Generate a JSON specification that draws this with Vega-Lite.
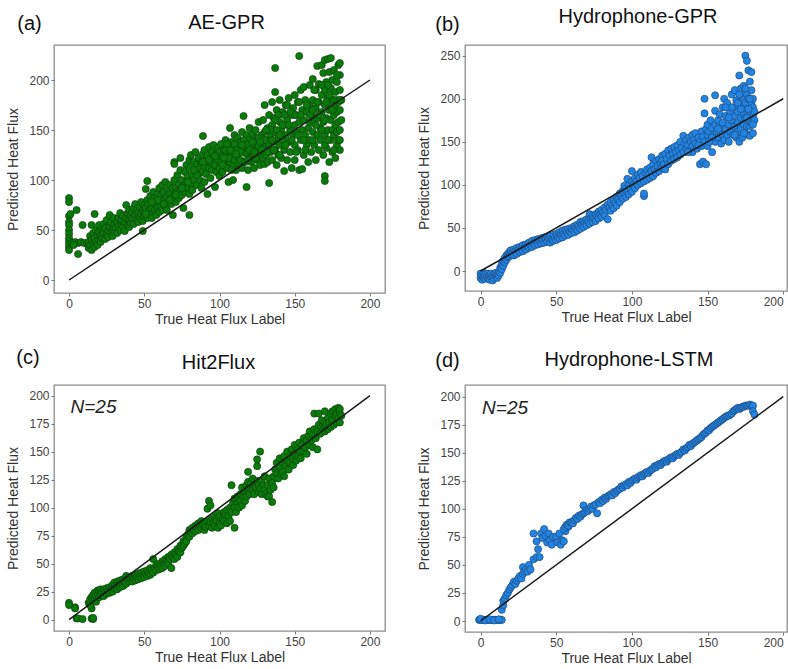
{
"$schema": "https://vega.github.io/schema/vega-lite/v6.json",
"padding": {"left": 6, "right": 0, "top": 6, "bottom": 0},
"background": "white",
"config": {
 "font": "Liberation Sans",
 "view": {"stroke": "#8c8c8c", "strokeWidth": 1.3},
 "axis": {"grid": false, "domain": false, "tickSize": 3, "tickColor": "#777", "labelFontSize": 12, "labelColor": "#444", "labelPadding": 2, "labelOverlap": false, "titleFontSize": 14, "titleFontWeight": "normal", "titleColor": "#333", "labelFont": "Liberation Sans", "titleFont": "Liberation Sans"},
 "axisY": {"titlePadding": 8},
 "axisX": {"titlePadding": 3},
 "title": {"fontSize": 20, "fontWeight": "normal", "color": "#111", "font": "Liberation Sans"}
},
"datasets": {
 "diag": [{"x":0,"y":0},{"x":200,"y":200}],
 "ann": [{"x":1,"y":190,"t":"N=25"}],
 "a": [
{"x":0,"y":82},{"x":0,"y":78},{"x":0,"y":64},{"x":0,"y":58},{"x":0,"y":55},{"x":0,"y":50},{"x":0,"y":46},{"x":0,"y":42},{"x":0,"y":39},{"x":0,"y":36},{"x":0,"y":33},{"x":0,"y":30},
{"x":2,"y":37},{"x":4,"y":38},{"x":6,"y":37},{"x":8,"y":38},{"x":10,"y":37},{"x":12,"y":37},{"x":3,"y":35},{"x":5,"y":70},{"x":6,"y":26},{"x":9,"y":55},{"x":1,"y":66},
{"x":13,"y":32},{"x":13,"y":38},{"x":14,"y":35},{"x":14,"y":44},{"x":15,"y":30},{"x":15,"y":40},{"x":15,"y":55},{"x":16,"y":36},{"x":16,"y":47},{"x":17,"y":66},{"x":17,"y":33},{"x":17,"y":42},{"x":18,"y":38},{"x":18,"y":50},{"x":19,"y":45},{"x":19,"y":35},{"x":20,"y":40},{"x":20,"y":55},{"x":20,"y":48},
{"x":21,"y":38},{"x":21,"y":44},{"x":22,"y":50},{"x":22,"y":42},{"x":23,"y":47},{"x":23,"y":56},{"x":24,"y":41},{"x":24,"y":52},{"x":25,"y":45},{"x":25,"y":60},{"x":26,"y":49},{"x":26,"y":43},{"x":27,"y":53},{"x":27,"y":65},{"x":28,"y":47},{"x":28,"y":58},{"x":29,"y":51},{"x":29,"y":44},{"x":30,"y":55},{"x":30,"y":62},{"x":30,"y":48},
{"x":31,"y":52},{"x":32,"y":58},{"x":32,"y":47},{"x":33,"y":62},{"x":33,"y":54},{"x":34,"y":50},{"x":34,"y":67},{"x":35,"y":56},{"x":35,"y":60},{"x":36,"y":53},{"x":36,"y":64},{"x":37,"y":58},{"x":37,"y":49},{"x":38,"y":62},{"x":38,"y":75},{"x":39,"y":55},{"x":39,"y":67},{"x":40,"y":60},{"x":40,"y":70},{"x":40,"y":53},
{"x":41,"y":57},{"x":41,"y":64},{"x":42,"y":68},{"x":42,"y":61},{"x":43,"y":72},{"x":43,"y":56},{"x":44,"y":65},{"x":44,"y":76},{"x":45,"y":60},{"x":45,"y":70},{"x":46,"y":67},{"x":46,"y":58},{"x":47,"y":73},{"x":47,"y":63},{"x":48,"y":78},{"x":48,"y":66},{"x":49,"y":59},{"x":49,"y":70},{"x":49,"y":49},{"x":50,"y":64},{"x":50,"y":75},{"x":50,"y":68},
{"x":51,"y":91},{"x":52,"y":99},{"x":51,"y":72},{"x":52,"y":62},{"x":52,"y":80},{"x":53,"y":69},{"x":53,"y":76},{"x":54,"y":66},{"x":54,"y":84},{"x":55,"y":72},{"x":55,"y":62},{"x":56,"y":78},{"x":56,"y":88},{"x":57,"y":70},{"x":57,"y":82},{"x":58,"y":75},{"x":58,"y":65},{"x":59,"y":86},{"x":59,"y":72},{"x":60,"y":79},{"x":60,"y":68},{"x":60,"y":92},
{"x":61,"y":74},{"x":61,"y":84},{"x":62,"y":95},{"x":62,"y":70},{"x":63,"y":80},{"x":63,"y":88},{"x":64,"y":74},{"x":64,"y":98},{"x":65,"y":83},{"x":65,"y":70},{"x":66,"y":90},{"x":66,"y":78},{"x":67,"y":86},{"x":67,"y":95},{"x":68,"y":76},{"x":68,"y":82},{"x":69,"y":92},{"x":69,"y":65},{"x":70,"y":85},{"x":70,"y":100},{"x":70,"y":118},{"x":70,"y":116},
{"x":71,"y":78},{"x":71,"y":93},{"x":72,"y":88},{"x":72,"y":105},{"x":73,"y":82},{"x":73,"y":96},{"x":74,"y":122},{"x":74,"y":90},{"x":74,"y":110},{"x":75,"y":85},{"x":75,"y":100},{"x":76,"y":72},{"x":76,"y":94},{"x":77,"y":108},{"x":77,"y":88},{"x":78,"y":98},{"x":78,"y":115},{"x":79,"y":92},{"x":79,"y":104},{"x":80,"y":65},{"x":80,"y":86},{"x":80,"y":112},{"x":80,"y":120},
{"x":81,"y":96},{"x":81,"y":125},{"x":82,"y":105},{"x":82,"y":90},{"x":83,"y":118},{"x":83,"y":100},{"x":84,"y":110},{"x":84,"y":128},{"x":85,"y":95},{"x":85,"y":115},{"x":86,"y":106},{"x":86,"y":122},{"x":87,"y":100},{"x":87,"y":112},{"x":88,"y":118},{"x":88,"y":92},{"x":89,"y":144},{"x":89,"y":108},{"x":89,"y":126},{"x":90,"y":114},{"x":90,"y":98},{"x":90,"y":130},
{"x":91,"y":120},{"x":91,"y":106},{"x":92,"y":86},{"x":92,"y":125},{"x":93,"y":112},{"x":93,"y":133},{"x":94,"y":118},{"x":94,"y":102},{"x":95,"y":128},{"x":95,"y":110},{"x":96,"y":122},{"x":96,"y":135},{"x":97,"y":93},{"x":97,"y":115},{"x":98,"y":126},{"x":98,"y":108},{"x":99,"y":120},{"x":99,"y":132},{"x":100,"y":112},{"x":100,"y":128},{"x":100,"y":104},
{"x":101,"y":118},{"x":101,"y":136},{"x":102,"y":124},{"x":102,"y":108},{"x":103,"y":130},{"x":103,"y":115},{"x":104,"y":120},{"x":104,"y":140},{"x":105,"y":112},{"x":105,"y":126},{"x":106,"y":98},{"x":106,"y":132},{"x":107,"y":152},{"x":107,"y":118},{"x":108,"y":124},{"x":108,"y":138},{"x":109,"y":100},{"x":109,"y":114},{"x":110,"y":128},{"x":110,"y":145},{"x":110,"y":120},
{"x":111,"y":110},{"x":111,"y":134},{"x":112,"y":124},{"x":112,"y":142},{"x":113,"y":116},{"x":113,"y":130},{"x":114,"y":138},{"x":114,"y":120},{"x":115,"y":148},{"x":115,"y":112},{"x":116,"y":164},{"x":116,"y":128},{"x":117,"y":136},{"x":117,"y":118},{"x":118,"y":93},{"x":118,"y":126},{"x":118,"y":145},{"x":119,"y":110},{"x":119,"y":132},{"x":120,"y":140},{"x":120,"y":152},{"x":120,"y":122},
{"x":121,"y":118},{"x":121,"y":134},{"x":122,"y":146},{"x":122,"y":126},{"x":123,"y":112},{"x":123,"y":138},{"x":124,"y":150},{"x":124,"y":130},{"x":125,"y":120},{"x":125,"y":142},{"x":126,"y":158},{"x":126,"y":134},{"x":127,"y":115},{"x":127,"y":126},{"x":128,"y":145},{"x":128,"y":138},{"x":129,"y":122},{"x":129,"y":160},{"x":130,"y":175},{"x":130,"y":132},{"x":130,"y":148},{"x":130,"y":116},
{"x":131,"y":140},{"x":131,"y":125},{"x":132,"y":152},{"x":132,"y":118},{"x":133,"y":97},{"x":133,"y":135},{"x":133,"y":165},{"x":134,"y":128},{"x":134,"y":145},{"x":135,"y":178},{"x":135,"y":155},{"x":135,"y":120},{"x":136,"y":138},{"x":136,"y":162},{"x":137,"y":212},{"x":137,"y":188},{"x":137,"y":130},{"x":137,"y":148},{"x":138,"y":115},{"x":138,"y":170},{"x":139,"y":142},{"x":139,"y":125},{"x":140,"y":158},{"x":140,"y":135},{"x":140,"y":180},
{"x":141,"y":122},{"x":141,"y":150},{"x":142,"y":168},{"x":142,"y":140},{"x":143,"y":109},{"x":143,"y":130},{"x":143,"y":155},{"x":144,"y":175},{"x":144,"y":145},{"x":145,"y":120},{"x":145,"y":160},{"x":146,"y":138},{"x":146,"y":182},{"x":147,"y":150},{"x":147,"y":128},{"x":148,"y":165},{"x":148,"y":112},{"x":149,"y":145},{"x":149,"y":172},{"x":150,"y":135},{"x":150,"y":155},{"x":150,"y":185},{"x":150,"y":120},
{"x":151,"y":148},{"x":151,"y":165},{"x":152,"y":130},{"x":152,"y":178},{"x":153,"y":224},{"x":153,"y":110},{"x":153,"y":158},{"x":154,"y":140},{"x":154,"y":190},{"x":155,"y":111},{"x":155,"y":170},{"x":155,"y":150},{"x":156,"y":125},{"x":156,"y":193},{"x":156,"y":160},{"x":157,"y":145},{"x":157,"y":180},{"x":158,"y":135},{"x":158,"y":168},{"x":159,"y":118},{"x":159,"y":152},{"x":160,"y":175},{"x":160,"y":140},{"x":160,"y":195},{"x":160,"y":158},
{"x":161,"y":128},{"x":161,"y":165},{"x":162,"y":201},{"x":162,"y":148},{"x":162,"y":180},{"x":163,"y":135},{"x":163,"y":158},{"x":164,"y":172},{"x":164,"y":120},{"x":164,"y":190},{"x":165,"y":214},{"x":165,"y":145},{"x":165,"y":162},{"x":166,"y":130},{"x":166,"y":178},{"x":166,"y":196},{"x":167,"y":152},{"x":167,"y":140},{"x":168,"y":215},{"x":168,"y":168},{"x":168,"y":185},{"x":169,"y":125},{"x":169,"y":207},{"x":169,"y":158},{"x":170,"y":104},{"x":170,"y":99},{"x":170,"y":145},{"x":170,"y":175},{"x":170,"y":220},{"x":170,"y":190},
{"x":171,"y":132},{"x":171,"y":162},{"x":171,"y":198},{"x":172,"y":221},{"x":172,"y":150},{"x":172,"y":182},{"x":173,"y":118},{"x":173,"y":170},{"x":173,"y":208},{"x":174,"y":222},{"x":174,"y":140},{"x":174,"y":160},{"x":174,"y":192},{"x":175,"y":128},{"x":175,"y":180},{"x":175,"y":200},{"x":175,"y":150},{"x":176,"y":165},{"x":176,"y":145},{"x":176,"y":210},{"x":177,"y":122},{"x":177,"y":188},{"x":177,"y":172},{"x":177,"y":155},{"x":178,"y":135},{"x":178,"y":198},{"x":178,"y":168},{"x":178,"y":148},{"x":179,"y":215},{"x":179,"y":178},{"x":179,"y":158},{"x":179,"y":140},{"x":180,"y":217},{"x":180,"y":190},{"x":180,"y":170},{"x":180,"y":150},{"x":180,"y":130},{"x":180,"y":205},{"x":181,"y":160},{"x":181,"y":180},
{"x":102,"y":115},{"x":104,"y":130},{"x":106,"y":122},{"x":108,"y":110},{"x":110,"y":136},{"x":112,"y":130},{"x":114,"y":128},{"x":116,"y":140},{"x":118,"y":135},{"x":120,"y":130},{"x":122,"y":138},{"x":124,"y":122},{"x":126,"y":142},{"x":128,"y":130},{"x":130,"y":140},{"x":132,"y":128},{"x":134,"y":150},{"x":136,"y":130},{"x":138,"y":150},{"x":140,"y":125},{"x":140,"y":145},{"x":142,"y":155},{"x":144,"y":135},{"x":146,"y":155},{"x":148,"y":140},{"x":150,"y":165},{"x":152,"y":145},{"x":154,"y":165},{"x":156,"y":140},{"x":158,"y":175},{"x":160,"y":165},{"x":162,"y":140},{"x":162,"y":170},{"x":164,"y":155},{"x":166,"y":165},{"x":168,"y":150},{"x":168,"y":195},{"x":170,"y":160},{"x":170,"y":135},{"x":172,"y":140},{"x":172,"y":195},{"x":174,"y":175},{"x":176,"y":180},{"x":176,"y":130},{"x":178,"y":180},{"x":178,"y":205},{"x":180,"y":140},{"x":180,"y":180},{"x":175,"y":170},{"x":173,"y":185},{"x":171,"y":178},{"x":165,"y":178},{"x":163,"y":190},{"x":157,"y":130},{"x":153,"y":178},{"x":151,"y":128},{"x":147,"y":168},{"x":145,"y":175},{"x":143,"y":165},{"x":139,"y":165},{"x":137,"y":160},{"x":135,"y":140},{"x":131,"y":150},{"x":127,"y":138},{"x":123,"y":128},{"x":119,"y":120},{"x":115,"y":135},{"x":111,"y":126},{"x":107,"y":130},{"x":105,"y":136},{"x":103,"y":122},{"x":97,"y":124},{"x":93,"y":120},{"x":89,"y":118},{"x":85,"y":105},{"x":83,"y":110},{"x":79,"y":98},{"x":75,"y":92},{"x":71,"y":85},{"x":67,"y":80},{"x":63,"y":76},{"x":59,"y":80},{"x":55,"y":78},{"x":51,"y":66}
 ],
 "b": [
{"x":0,"y":-3},{"x":0,"y":-8},{"x":1,"y":-10},{"x":1,"y":-5},{"x":2,"y":-2},{"x":2,"y":-7},{"x":3,"y":-9},{"x":3,"y":-4},{"x":4,"y":-6},{"x":5,"y":-3},{"x":5,"y":-8},{"x":6,"y":-5},{"x":6,"y":-10},{"x":7,"y":-7},{"x":7,"y":-3},{"x":8,"y":-11},{"x":8,"y":-6},{"x":9,"y":-4},{"x":9,"y":-8},{"x":10,"y":-6},{"x":10,"y":-2},{"x":11,"y":-8},{"x":11,"y":-4},{"x":12,"y":-5},{"x":12,"y":-1},
{"x":13,"y":-2},{"x":13,"y":4},{"x":14,"y":8},{"x":14,"y":2},{"x":15,"y":12},{"x":15,"y":6},{"x":16,"y":15},{"x":16,"y":10},{"x":17,"y":18},{"x":17,"y":13},{"x":18,"y":20},{"x":18,"y":16},{"x":19,"y":22},{"x":19,"y":17},{"x":20,"y":24},{"x":20,"y":19},
{"x":21,"y":21},{"x":22,"y":25},{"x":22,"y":18},{"x":23,"y":23},{"x":24,"y":27},{"x":24,"y":20},{"x":25,"y":24},{"x":26,"y":28},{"x":26,"y":22},{"x":27,"y":26},{"x":28,"y":30},{"x":28,"y":23},{"x":29,"y":27},{"x":30,"y":31},{"x":30,"y":25},{"x":31,"y":29},{"x":32,"y":33},{"x":32,"y":27},{"x":33,"y":30},{"x":34,"y":35},{"x":34,"y":28},{"x":35,"y":32},{"x":36,"y":36},{"x":36,"y":30},{"x":37,"y":34},{"x":38,"y":37},{"x":38,"y":31},{"x":39,"y":35},{"x":40,"y":38},{"x":40,"y":32},
{"x":41,"y":36},{"x":42,"y":39},{"x":42,"y":33},{"x":43,"y":37},{"x":44,"y":40},{"x":44,"y":34},{"x":45,"y":38},{"x":46,"y":33},{"x":46,"y":41},{"x":47,"y":37},{"x":48,"y":42},{"x":48,"y":35},{"x":49,"y":39},{"x":50,"y":43},{"x":50,"y":36},{"x":51,"y":40},{"x":52,"y":45},{"x":52,"y":38},{"x":53,"y":42},{"x":54,"y":47},{"x":54,"y":39},{"x":55,"y":43},{"x":56,"y":48},{"x":56,"y":41},{"x":57,"y":45},{"x":58,"y":49},{"x":58,"y":42},{"x":59,"y":46},{"x":60,"y":50},{"x":60,"y":44},
{"x":61,"y":48},{"x":62,"y":52},{"x":62,"y":45},{"x":63,"y":50},{"x":64,"y":54},{"x":64,"y":47},{"x":65,"y":52},{"x":66,"y":57},{"x":66,"y":49},{"x":67,"y":54},{"x":68,"y":58},{"x":68,"y":51},{"x":69,"y":56},{"x":70,"y":60},{"x":70,"y":53},{"x":71,"y":58},{"x":72,"y":66},{"x":72,"y":55},{"x":73,"y":61},{"x":74,"y":64},{"x":74,"y":57},{"x":75,"y":62},{"x":76,"y":66},{"x":76,"y":58},{"x":77,"y":64},{"x":78,"y":69},{"x":78,"y":61},{"x":79,"y":66},{"x":80,"y":71},{"x":80,"y":63},
{"x":81,"y":68},{"x":82,"y":74},{"x":82,"y":65},{"x":83,"y":71},{"x":84,"y":77},{"x":84,"y":60},{"x":85,"y":73},{"x":86,"y":80},{"x":86,"y":70},{"x":87,"y":76},{"x":88,"y":83},{"x":88,"y":73},{"x":89,"y":79},{"x":90,"y":86},{"x":90,"y":76},{"x":91,"y":83},{"x":92,"y":90},{"x":92,"y":80},{"x":93,"y":87},{"x":94,"y":93},{"x":94,"y":84},{"x":95,"y":99},{"x":95,"y":90},{"x":96,"y":95},{"x":96,"y":86},{"x":97,"y":107},{"x":97,"y":92},{"x":98,"y":100},{"x":98,"y":89},{"x":99,"y":96},{"x":100,"y":104},{"x":100,"y":92},{"x":100,"y":116},
{"x":101,"y":100},{"x":102,"y":108},{"x":102,"y":96},{"x":103,"y":104},{"x":104,"y":112},{"x":104,"y":100},{"x":105,"y":108},{"x":106,"y":102},{"x":106,"y":115},{"x":107,"y":110},{"x":108,"y":87},{"x":108,"y":90},{"x":108,"y":104},{"x":109,"y":114},{"x":110,"y":118},{"x":110,"y":106},{"x":111,"y":112},{"x":112,"y":120},{"x":112,"y":108},{"x":113,"y":132},{"x":113,"y":116},{"x":114,"y":124},{"x":114,"y":110},{"x":115,"y":118},{"x":116,"y":128},{"x":116,"y":114},{"x":117,"y":122},{"x":118,"y":130},{"x":118,"y":116},{"x":119,"y":125},{"x":120,"y":134},{"x":120,"y":120},{"x":120,"y":128},
{"x":121,"y":124},{"x":122,"y":136},{"x":122,"y":118},{"x":123,"y":130},{"x":124,"y":140},{"x":124,"y":124},{"x":125,"y":134},{"x":126,"y":128},{"x":126,"y":142},{"x":127,"y":136},{"x":128,"y":130},{"x":128,"y":144},{"x":129,"y":138},{"x":130,"y":132},{"x":130,"y":146},{"x":131,"y":140},{"x":132,"y":135},{"x":132,"y":150},{"x":133,"y":143},{"x":134,"y":157},{"x":134,"y":138},{"x":135,"y":148},{"x":136,"y":142},{"x":136,"y":152},{"x":137,"y":146},{"x":138,"y":140},{"x":138,"y":155},{"x":139,"y":150},{"x":140,"y":145},{"x":140,"y":158},{"x":140,"y":138},
{"x":141,"y":152},{"x":142,"y":148},{"x":142,"y":160},{"x":143,"y":142},{"x":144,"y":155},{"x":145,"y":124},{"x":145,"y":150},{"x":146,"y":162},{"x":146,"y":145},{"x":147,"y":127},{"x":147,"y":156},{"x":148,"y":200},{"x":148,"y":183},{"x":148,"y":150},{"x":149,"y":165},{"x":149,"y":124},{"x":150,"y":158},{"x":150,"y":145},{"x":150,"y":170},{"x":151,"y":162},{"x":152,"y":152},{"x":152,"y":175},{"x":153,"y":138},{"x":153,"y":166},{"x":154,"y":158},{"x":155,"y":186},{"x":155,"y":204},{"x":155,"y":170},{"x":155,"y":150},{"x":156,"y":162},{"x":157,"y":175},{"x":157,"y":155},{"x":158,"y":168},{"x":158,"y":182},{"x":159,"y":160},{"x":159,"y":148},{"x":160,"y":172},{"x":160,"y":158},{"x":160,"y":190},
{"x":161,"y":152},{"x":161,"y":200},{"x":162,"y":165},{"x":162,"y":180},{"x":163,"y":158},{"x":163,"y":195},{"x":164,"y":170},{"x":164,"y":150},{"x":165,"y":185},{"x":165,"y":162},{"x":166,"y":175},{"x":166,"y":205},{"x":167,"y":158},{"x":167,"y":190},{"x":168,"y":168},{"x":168,"y":180},{"x":168,"y":210},{"x":169,"y":155},{"x":169,"y":198},{"x":170,"y":172},{"x":170,"y":185},{"x":170,"y":162},{"x":171,"y":227},{"x":171,"y":195},{"x":171,"y":150},{"x":172,"y":178},{"x":172,"y":212},{"x":172,"y":165},{"x":173,"y":190},{"x":173,"y":155},{"x":173,"y":203},{"x":174,"y":170},{"x":174,"y":215},{"x":174,"y":182},{"x":175,"y":250},{"x":175,"y":160},{"x":175,"y":195},{"x":175,"y":178},{"x":176,"y":244},{"x":176,"y":205},{"x":176,"y":168},{"x":176,"y":188},{"x":177,"y":233},{"x":177,"y":158},{"x":177,"y":175},{"x":177,"y":200},{"x":178,"y":220},{"x":178,"y":157},{"x":178,"y":185},{"x":178,"y":168},{"x":179,"y":231},{"x":179,"y":195},{"x":179,"y":210},{"x":179,"y":172},{"x":180,"y":180},{"x":180,"y":160},{"x":180,"y":200},{"x":180,"y":190},{"x":181,"y":175},{"x":181,"y":185},
{"x":164,"y":178},{"x":166,"y":190},{"x":168,"y":158},{"x":170,"y":195},{"x":172,"y":188},{"x":174,"y":160},{"x":176,"y":178},{"x":178,"y":200},{"x":180,"y":170},{"x":171,"y":205},{"x":175,"y":212},{"x":177,"y":188},{"x":162,"y":190},{"x":157,"y":165},{"x":153,"y":155},{"x":151,"y":150},{"x":144,"y":146},{"x":137,"y":138}
 ],
 "c": [
{"x":0,"y":15},{"x":0,"y":13},{"x":4,"y":11},{"x":4,"y":10},{"x":5,"y":1},{"x":6,"y":1},{"x":9,"y":0.5},{"x":15,"y":1},{"x":16,"y":0.5},{"x":16,"y":1.5},{"x":15,"y":10},
{"x":13,"y":15},{"x":14,"y":18},{"x":14,"y":13},{"x":15,"y":20},{"x":16,"y":17},{"x":16,"y":22},{"x":17,"y":19},{"x":17,"y":24},{"x":18,"y":21},{"x":18,"y":16},{"x":19,"y":23},{"x":19,"y":26},{"x":20,"y":20},{"x":20,"y":25},{"x":21,"y":22},{"x":21,"y":27},{"x":22,"y":24},{"x":23,"y":21},{"x":23,"y":27},{"x":24,"y":25},{"x":25,"y":23},{"x":25,"y":28},{"x":26,"y":26},{"x":27,"y":29},{"x":27,"y":24},{"x":28,"y":27},{"x":29,"y":31},{"x":29,"y":25},{"x":30,"y":28},{"x":30,"y":33},
{"x":31,"y":30},{"x":32,"y":27},{"x":32,"y":34},{"x":33,"y":31},{"x":34,"y":29},{"x":34,"y":35},{"x":35,"y":32},{"x":36,"y":30},{"x":36,"y":36},{"x":37,"y":34},{"x":38,"y":39},{"x":38,"y":32},{"x":39,"y":36},{"x":40,"y":34},{"x":40,"y":38},{"x":41,"y":36},{"x":42,"y":39},{"x":42,"y":34},{"x":43,"y":37},{"x":44,"y":40},{"x":44,"y":35},{"x":45,"y":38},{"x":46,"y":36},{"x":46,"y":41},{"x":47,"y":39},{"x":48,"y":37},{"x":48,"y":42},{"x":49,"y":40},{"x":50,"y":38},{"x":50,"y":43},
{"x":51,"y":41},{"x":52,"y":39},{"x":52,"y":44},{"x":53,"y":42},{"x":54,"y":40},{"x":54,"y":46},{"x":55,"y":44},{"x":56,"y":54},{"x":56,"y":42},{"x":57,"y":46},{"x":58,"y":44},{"x":58,"y":49},{"x":59,"y":47},{"x":60,"y":45},{"x":60,"y":50},{"x":61,"y":48},{"x":62,"y":46},{"x":62,"y":52},{"x":63,"y":50},{"x":64,"y":48},{"x":64,"y":54},{"x":65,"y":52},{"x":66,"y":50},{"x":66,"y":56},{"x":67,"y":54},{"x":68,"y":46},{"x":68,"y":58},{"x":69,"y":56},{"x":70,"y":54},{"x":70,"y":60},
{"x":71,"y":58},{"x":72,"y":63},{"x":72,"y":56},{"x":73,"y":61},{"x":74,"y":66},{"x":74,"y":60},{"x":75,"y":64},{"x":76,"y":70},{"x":76,"y":66},{"x":77,"y":68},{"x":78,"y":74},{"x":78,"y":70},{"x":79,"y":76},{"x":80,"y":80},{"x":80,"y":74},{"x":81,"y":78},{"x":82,"y":82},{"x":82,"y":77},{"x":83,"y":80},{"x":84,"y":84},{"x":84,"y":79},{"x":85,"y":82},{"x":86,"y":86},{"x":86,"y":80},{"x":87,"y":84},{"x":88,"y":88},{"x":88,"y":82},{"x":89,"y":85},{"x":90,"y":80},{"x":90,"y":86},
{"x":91,"y":83},{"x":92,"y":88},{"x":92,"y":99},{"x":93,"y":84},{"x":93,"y":106},{"x":94,"y":87},{"x":94,"y":102},{"x":95,"y":82},{"x":95,"y":90},{"x":96,"y":86},{"x":97,"y":84},{"x":97,"y":92},{"x":98,"y":88},{"x":99,"y":82},{"x":99,"y":95},{"x":100,"y":86},{"x":100,"y":92},{"x":101,"y":84},{"x":102,"y":90},{"x":103,"y":96},{"x":103,"y":88},{"x":104,"y":94},{"x":105,"y":86},{"x":105,"y":98},{"x":106,"y":92},{"x":107,"y":100},{"x":107,"y":88},{"x":108,"y":120},{"x":108,"y":96},{"x":109,"y":104},{"x":110,"y":82},{"x":110,"y":100},{"x":110,"y":108},
{"x":111,"y":96},{"x":112,"y":110},{"x":112,"y":104},{"x":113,"y":100},{"x":114,"y":112},{"x":114,"y":106},{"x":115,"y":118},{"x":115,"y":102},{"x":116,"y":110},{"x":117,"y":114},{"x":117,"y":106},{"x":118,"y":120},{"x":118,"y":110},{"x":119,"y":132},{"x":119,"y":123},{"x":119,"y":116},{"x":120,"y":112},{"x":120,"y":118},{"x":121,"y":122},{"x":122,"y":116},{"x":122,"y":126},{"x":123,"y":112},{"x":123,"y":120},{"x":124,"y":118},{"x":125,"y":143},{"x":125,"y":137},{"x":125,"y":124},{"x":126,"y":114},{"x":126,"y":120},{"x":127,"y":150},{"x":127,"y":117},{"x":128,"y":124},{"x":128,"y":112},{"x":129,"y":120},{"x":130,"y":116},{"x":130,"y":128},
{"x":131,"y":112},{"x":132,"y":120},{"x":132,"y":110},{"x":133,"y":110},{"x":133,"y":126},{"x":134,"y":116},{"x":135,"y":105},{"x":135,"y":122},{"x":136,"y":128},{"x":136,"y":118},{"x":137,"y":134},{"x":138,"y":130},{"x":138,"y":140},{"x":139,"y":126},{"x":140,"y":136},{"x":140,"y":144},{"x":141,"y":130},{"x":142,"y":140},{"x":142,"y":132},{"x":143,"y":146},{"x":143,"y":128},{"x":144,"y":138},{"x":145,"y":142},{"x":145,"y":150},{"x":146,"y":134},{"x":147,"y":146},{"x":147,"y":140},{"x":148,"y":152},{"x":149,"y":144},{"x":149,"y":138},{"x":150,"y":148},{"x":150,"y":156},
{"x":151,"y":142},{"x":152,"y":152},{"x":152,"y":146},{"x":153,"y":158},{"x":154,"y":150},{"x":154,"y":144},{"x":155,"y":156},{"x":156,"y":150},{"x":156,"y":162},{"x":157,"y":154},{"x":158,"y":160},{"x":158,"y":148},{"x":159,"y":164},{"x":160,"y":156},{"x":160,"y":168},{"x":161,"y":160},{"x":162,"y":166},{"x":162,"y":154},{"x":163,"y":170},{"x":163,"y":184},{"x":164,"y":162},{"x":165,"y":168},{"x":165,"y":152},{"x":166,"y":174},{"x":166,"y":184},{"x":167,"y":166},{"x":168,"y":172},{"x":168,"y":178},{"x":169,"y":170},{"x":170,"y":176},{"x":170,"y":186},{"x":170,"y":168},
{"x":171,"y":174},{"x":172,"y":180},{"x":172,"y":170},{"x":173,"y":176},{"x":174,"y":184},{"x":174,"y":172},{"x":175,"y":178},{"x":175,"y":186},{"x":176,"y":174},{"x":177,"y":182},{"x":177,"y":188},{"x":178,"y":176},{"x":178,"y":184},{"x":179,"y":180},{"x":179,"y":189},{"x":180,"y":176},{"x":180,"y":184},{"x":180,"y":188},{"x":181,"y":182}
 ],
 "d": [
{"x":-1,"y":1},{"x":0,"y":1},{"x":1,"y":1},{"x":2,"y":1},{"x":3,"y":1},{"x":4,"y":1},{"x":5,"y":1},{"x":6,"y":1},{"x":7,"y":1},{"x":8,"y":1},{"x":9,"y":1},{"x":10,"y":1},{"x":11,"y":1},{"x":12,"y":1},{"x":13,"y":1},{"x":14,"y":1},{"x":0,"y":2},{"x":3,"y":0.5},{"x":6,"y":1.5},{"x":9,"y":0.5},{"x":12,"y":1.5},
{"x":14,"y":10},{"x":15,"y":14},{"x":15,"y":18},{"x":16,"y":20},{"x":17,"y":23},{"x":18,"y":25},{"x":19,"y":28},{"x":20,"y":30},{"x":21,"y":32},{"x":22,"y":35},{"x":23,"y":33},{"x":24,"y":36},{"x":25,"y":38},{"x":26,"y":40},{"x":27,"y":38},{"x":28,"y":42},{"x":28,"y":48},{"x":29,"y":44},{"x":30,"y":46},{"x":31,"y":44},{"x":32,"y":50},{"x":33,"y":46},{"x":35,"y":55},{"x":35,"y":78},{"x":37,"y":57},{"x":37,"y":71},{"x":38,"y":64},{"x":39,"y":57},{"x":40,"y":78},{"x":41,"y":74},{"x":42,"y":82},{"x":43,"y":76},{"x":44,"y":70},{"x":45,"y":78},{"x":46,"y":72},{"x":47,"y":68},{"x":48,"y":75},{"x":50,"y":75},{"x":51,"y":70},{"x":52,"y":78},{"x":53,"y":68},{"x":54,"y":72},{"x":55,"y":71},{"x":56,"y":80},{"x":58,"y":84},
{"x":55,"y":82},{"x":56,"y":84},{"x":57,"y":86},{"x":58,"y":85},{"x":59,"y":88},{"x":60,"y":88},{"x":61,"y":87},{"x":62,"y":90},{"x":63,"y":92},{"x":64,"y":91},{"x":65,"y":94},{"x":66,"y":93},{"x":67,"y":95},{"x":68,"y":103},{"x":68,"y":96},{"x":69,"y":97},{"x":70,"y":99},{"x":71,"y":98},{"x":72,"y":100},{"x":73,"y":102},{"x":74,"y":100},{"x":75,"y":103},{"x":76,"y":104},{"x":77,"y":96},{"x":78,"y":106},{"x":79,"y":105},{"x":80,"y":108},{"x":81,"y":107},{"x":82,"y":110},{"x":83,"y":109},{"x":84,"y":111},{"x":85,"y":112},{"x":86,"y":113},{"x":87,"y":112},{"x":88,"y":115},{"x":89,"y":114},{"x":90,"y":116},{"x":91,"y":117},{"x":92,"y":118},{"x":93,"y":120},{"x":94,"y":119},{"x":95,"y":121},{"x":96,"y":122},{"x":97,"y":121},{"x":98,"y":124},{"x":99,"y":123},{"x":100,"y":125},
{"x":101,"y":126},{"x":102,"y":127},{"x":103,"y":126},{"x":104,"y":128},{"x":105,"y":129},{"x":106,"y":130},{"x":107,"y":129},{"x":108,"y":131},{"x":109,"y":132},{"x":110,"y":133},{"x":111,"y":132},{"x":112,"y":134},{"x":113,"y":135},{"x":114,"y":136},{"x":115,"y":138},{"x":116,"y":137},{"x":117,"y":139},{"x":118,"y":140},{"x":119,"y":139},{"x":120,"y":141},{"x":121,"y":142},{"x":122,"y":143},{"x":123,"y":142},{"x":124,"y":144},{"x":125,"y":145},{"x":126,"y":146},{"x":127,"y":145},{"x":128,"y":147},{"x":129,"y":148},{"x":130,"y":149},{"x":131,"y":148},{"x":132,"y":150},{"x":133,"y":151},{"x":134,"y":153},{"x":135,"y":152},{"x":136,"y":154},{"x":137,"y":155},{"x":138,"y":157},{"x":139,"y":156},{"x":140,"y":158},
{"x":141,"y":159},{"x":142,"y":160},{"x":143,"y":161},{"x":144,"y":162},{"x":145,"y":163},{"x":146,"y":164},{"x":147,"y":166},{"x":148,"y":167},{"x":149,"y":168},{"x":150,"y":170},{"x":151,"y":170},{"x":152,"y":172},{"x":153,"y":173},{"x":154,"y":174},{"x":155,"y":175},{"x":156,"y":176},{"x":157,"y":177},{"x":158,"y":178},{"x":159,"y":179},{"x":160,"y":180},{"x":161,"y":181},{"x":162,"y":182},{"x":163,"y":183},{"x":164,"y":183},{"x":165,"y":184},{"x":166,"y":185},{"x":167,"y":187},{"x":168,"y":188},{"x":169,"y":189},{"x":170,"y":190},{"x":171,"y":189},{"x":172,"y":190},{"x":173,"y":191},{"x":174,"y":191},{"x":175,"y":192},{"x":176,"y":192},{"x":177,"y":192},{"x":178,"y":193},{"x":179,"y":192},{"x":180,"y":192},{"x":180,"y":187},{"x":181,"y":184}
 ]
},
"concat": [
 {
  "title": {"text": "(a)", "anchor": "start", "frame": "bounds", "dx": 11, "dy": 26},
  "vconcat": [{
   "title": {"text": "AE-GPR", "anchor": "middle", "dx": 7, "offset": 12},
   "width": 331, "height": 248,
   "layer": [
    {"data": {"name": "a"}, "mark": {"type": "circle", "size": 52, "fill": "#0a7a0a", "stroke": "#0d3a0d", "strokeWidth": 0.6, "opacity": 1},
     "encoding": {
      "x": {"field": "x", "type": "quantitative", "scale": {"domain": [-10, 210], "nice": false, "zero": false}, "axis": {"values": [0,50,100,150,200], "title": "True Heat Flux Label", "labelOverlap": false}},
      "y": {"field": "y", "type": "quantitative", "scale": {"domain": [-13, 235], "nice": false, "zero": false}, "axis": {"values": [0,50,100,150,200], "title": "Predicted Heat Flux", "labelOverlap": false}}}},
    {"data": {"name": "diag"}, "mark": {"type": "line", "color": "#1a1a1a", "strokeWidth": 1.5},
     "encoding": {"x": {"field": "x", "type": "quantitative"}, "y": {"field": "y", "type": "quantitative"}}}
   ]
  }]
 },
 {
  "title": {"text": "(b)", "anchor": "start", "frame": "bounds", "dx": 18, "dy": 33},
  "vconcat": [{
   "title": {"text": "Hydrophone-GPR", "anchor": "middle", "dx": 12, "offset": 18},
   "width": 322, "height": 246,
   "layer": [
    {"data": {"name": "b"}, "mark": {"type": "circle", "size": 52, "fill": "#2383e2", "stroke": "#1d4470", "strokeWidth": 0.6, "opacity": 1},
     "encoding": {
      "x": {"field": "x", "type": "quantitative", "scale": {"domain": [-10.3, 202.5], "nice": false, "zero": false}, "axis": {"values": [0,50,100,150,200], "title": "True Heat Flux Label", "labelOverlap": false, "labelAlign": {"condition": {"test": "datum.value >= 200", "value": "right"}, "value": "center"}}},
      "y": {"field": "y", "type": "quantitative", "scale": {"domain": [-23.2, 262.4], "nice": false, "zero": false}, "axis": {"values": [0,50,100,150,200,250], "title": "Predicted Heat Flux", "labelOverlap": false}}}},
    {"data": {"name": "diag"}, "mark": {"type": "line", "color": "#1a1a1a", "strokeWidth": 1.5},
     "encoding": {"x": {"field": "x", "type": "quantitative"}, "y": {"field": "y", "type": "quantitative"}}}
   ]
  }]
 },
 {
  "title": {"text": "(c)", "anchor": "start", "frame": "bounds", "dx": 10, "dy": 20},
  "vconcat": [{
   "title": {"text": "Hit2Flux", "anchor": "middle", "dx": -1, "offset": 12},
   "width": 331, "height": 246,
   "layer": [
    {"data": {"name": "c"}, "mark": {"type": "circle", "size": 52, "fill": "#0a7a0a", "stroke": "#0d3a0d", "strokeWidth": 0.6, "opacity": 1},
     "encoding": {
      "x": {"field": "x", "type": "quantitative", "scale": {"domain": [-10, 210], "nice": false, "zero": false}, "axis": {"values": [0,50,100,150,200], "title": "True Heat Flux Label", "labelOverlap": false}},
      "y": {"field": "y", "type": "quantitative", "scale": {"domain": [-10.2, 209.5], "nice": false, "zero": false}, "axis": {"values": [0,25,50,75,100,125,150,175,200], "title": "Predicted Heat Flux", "labelOverlap": false, "tickCount": 9}}}},
    {"data": {"name": "diag"}, "mark": {"type": "line", "color": "#1a1a1a", "strokeWidth": 1.5},
     "encoding": {"x": {"field": "x", "type": "quantitative"}, "y": {"field": "y", "type": "quantitative"}}},
    {"data": {"name": "ann"}, "mark": {"type": "text", "align": "left", "baseline": "middle", "fontSize": 19, "fontStyle": "italic", "color": "#222"},
     "encoding": {"x": {"field": "x", "type": "quantitative"}, "y": {"field": "y", "type": "quantitative"}, "text": {"field": "t"}}}
   ]
  }]
 },
 {
  "title": {"text": "(d)", "anchor": "start", "frame": "bounds", "dx": 18, "dy": 26},
  "vconcat": [{
   "title": {"text": "Hydrophone-LSTM", "anchor": "middle", "dx": 3, "offset": 15},
   "width": 322, "height": 247,
   "layer": [
    {"data": {"name": "d"}, "mark": {"type": "circle", "size": 52, "fill": "#2383e2", "stroke": "#1d4470", "strokeWidth": 0.6, "opacity": 1},
     "encoding": {
      "x": {"field": "x", "type": "quantitative", "scale": {"domain": [-10.3, 202.5], "nice": false, "zero": false}, "axis": {"values": [0,50,100,150,200], "title": "True Heat Flux Label", "labelOverlap": false, "labelAlign": {"condition": {"test": "datum.value >= 200", "value": "right"}, "value": "center"}}},
      "y": {"field": "y", "type": "quantitative", "scale": {"domain": [-9.8, 210.4], "nice": false, "zero": false}, "axis": {"values": [0,25,50,75,100,125,150,175,200], "title": "Predicted Heat Flux", "labelOverlap": false, "tickCount": 9}}}},
    {"data": {"name": "diag"}, "mark": {"type": "line", "color": "#1a1a1a", "strokeWidth": 1.5},
     "encoding": {"x": {"field": "x", "type": "quantitative"}, "y": {"field": "y", "type": "quantitative"}}},
    {"data": {"name": "ann"}, "mark": {"type": "text", "align": "left", "baseline": "middle", "fontSize": 19, "fontStyle": "italic", "color": "#222"},
     "encoding": {"x": {"field": "x", "type": "quantitative"}, "y": {"field": "y", "type": "quantitative"}, "text": {"field": "t"}}}
   ]
  }]
 }
],
"columns": 2,
"spacing": {"row": 21, "column": 31}
}
